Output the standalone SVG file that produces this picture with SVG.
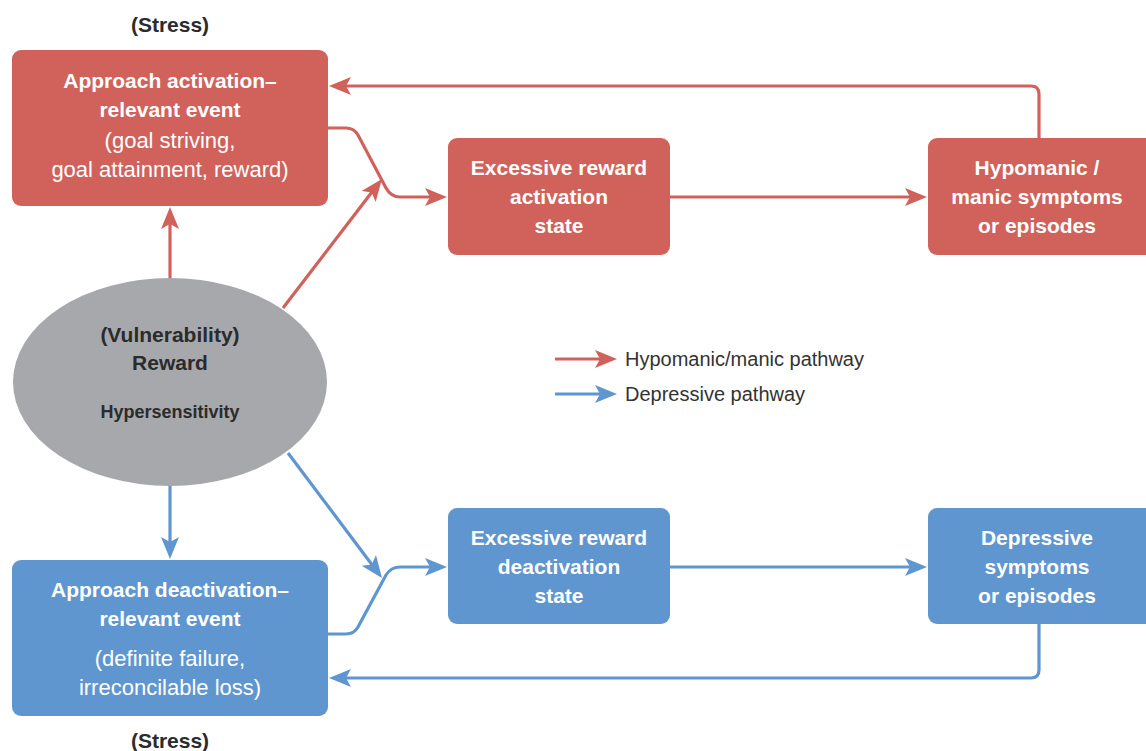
<svg xmlns="http://www.w3.org/2000/svg" width="1146" height="751" viewBox="0 0 1146 751">
<defs>
<style>
.red{fill:#d0625b}
.blue{fill:#5f96cf}
.t{font-family:"Liberation Sans",Arial,sans-serif;font-weight:bold;font-size:21px;fill:#ffffff;text-anchor:middle}
.n{font-weight:normal;font-size:22px}
.d{font-family:"Liberation Sans",Arial,sans-serif;font-weight:bold;fill:#2b2b2b;text-anchor:middle}
.rl{fill:none;stroke:#d0625b;stroke-width:3.2}
.bl{fill:none;stroke:#5f96cf;stroke-width:3.2}
.lg{font-family:"Liberation Sans",Arial,sans-serif;font-size:20px;fill:#333333}
</style>
<marker id="ar" viewBox="0 0 22 18" refX="16" refY="9" markerWidth="22" markerHeight="18" markerUnits="userSpaceOnUse" orient="auto">
<path d="M0,0 L22,9 L0,18 L5,9 Z" fill="#d0625b"/>
</marker>
<marker id="ab" viewBox="0 0 22 18" refX="16" refY="9" markerWidth="22" markerHeight="18" markerUnits="userSpaceOnUse" orient="auto">
<path d="M0,0 L22,9 L0,18 L5,9 Z" fill="#5f96cf"/>
</marker>
</defs>
<rect width="1146" height="751" fill="#ffffff"/>

<g id="connectors">
<path class="rl" d="M170,279 L170,213" marker-end="url(#ar)"/>
<path class="rl" d="M283,308 L378.3,183.8" marker-end="url(#ar)"/>
<path class="rl" d="M328,128 L346,128 Q354,128 358,135 L386,188 Q391,197 400,197 L441,197" marker-end="url(#ar)"/>
<path class="rl" d="M670,197 L921,197" marker-end="url(#ar)"/>
<path class="rl" d="M1039,138 L1039,94 Q1039,86 1031,86 L335,86" marker-end="url(#ar)"/>

<path class="bl" d="M170,486 L170,553" marker-end="url(#ab)"/>
<path class="bl" d="M288,453 L378.4,573.2" marker-end="url(#ab)"/>
<path class="bl" d="M328,634 L346,634 Q354,634 358,627 L386,575 Q391,567 400,567 L441,567" marker-end="url(#ab)"/>
<path class="bl" d="M670,567 L921,567" marker-end="url(#ab)"/>
<path class="bl" d="M1039,624 L1039,670 Q1039,678 1031,678 L335,678" marker-end="url(#ab)"/>
</g>

<g id="stress-top"><text class="d" x="170" y="32" font-size="21">(Stress)</text></g>

<g id="approach-activation">
<rect class="red" x="12" y="50" width="316" height="156" rx="9"/>
<text class="t" x="170" y="88">Approach activation–</text>
<text class="t" x="170" y="117">relevant event</text>
<text class="t n" x="170" y="148">(goal striving,</text>
<text class="t n" x="170" y="177">goal attainment, reward)</text>
</g>

<g id="activation-state">
<rect class="red" x="448" y="138" width="222" height="117" rx="9"/>
<text class="t" x="559" y="175">Excessive reward</text>
<text class="t" x="559" y="204">activation</text>
<text class="t" x="559" y="233">state</text>
</g>

<g id="hypomanic">
<rect class="red" x="928" y="138" width="226" height="117" rx="9"/>
<text class="t" x="1037" y="175">Hypomanic /</text>
<text class="t" x="1037" y="204">manic symptoms</text>
<text class="t" x="1037" y="233">or episodes</text>
</g>

<g id="vulnerability">
<ellipse cx="170" cy="382" rx="157" ry="104" fill="#a7a8ab"/>
<text class="d" x="170" y="342" font-size="21">(Vulnerability)</text>
<text class="d" x="170" y="370" font-size="21">Reward</text>
<text class="d" x="170" y="418" font-size="18">Hypersensitivity</text>
</g>

<g id="legend">
<path class="rl" d="M555,359 L611,359" marker-end="url(#ar)"/>
<text class="lg" x="625" y="366">Hypomanic/manic pathway</text>
<path class="bl" d="M555,394 L611,394" marker-end="url(#ab)"/>
<text class="lg" x="625" y="401">Depressive pathway</text>
</g>

<g id="approach-deactivation">
<rect class="blue" x="12" y="560" width="316" height="156" rx="9"/>
<text class="t" x="170" y="597">Approach deactivation–</text>
<text class="t" x="170" y="626">relevant event</text>
<text class="t n" x="170" y="666">(definite failure,</text>
<text class="t n" x="170" y="695">irreconcilable loss)</text>
</g>

<g id="deactivation-state">
<rect class="blue" x="448" y="508" width="222" height="116" rx="9"/>
<text class="t" x="559" y="545">Excessive reward</text>
<text class="t" x="559" y="574">deactivation</text>
<text class="t" x="559" y="603">state</text>
</g>

<g id="depressive">
<rect class="blue" x="928" y="508" width="226" height="116" rx="9"/>
<text class="t" x="1037" y="545">Depressive</text>
<text class="t" x="1037" y="574">symptoms</text>
<text class="t" x="1037" y="603">or episodes</text>
</g>

<g id="stress-bottom"><text class="d" x="170" y="748" font-size="21">(Stress)</text></g>
</svg>
